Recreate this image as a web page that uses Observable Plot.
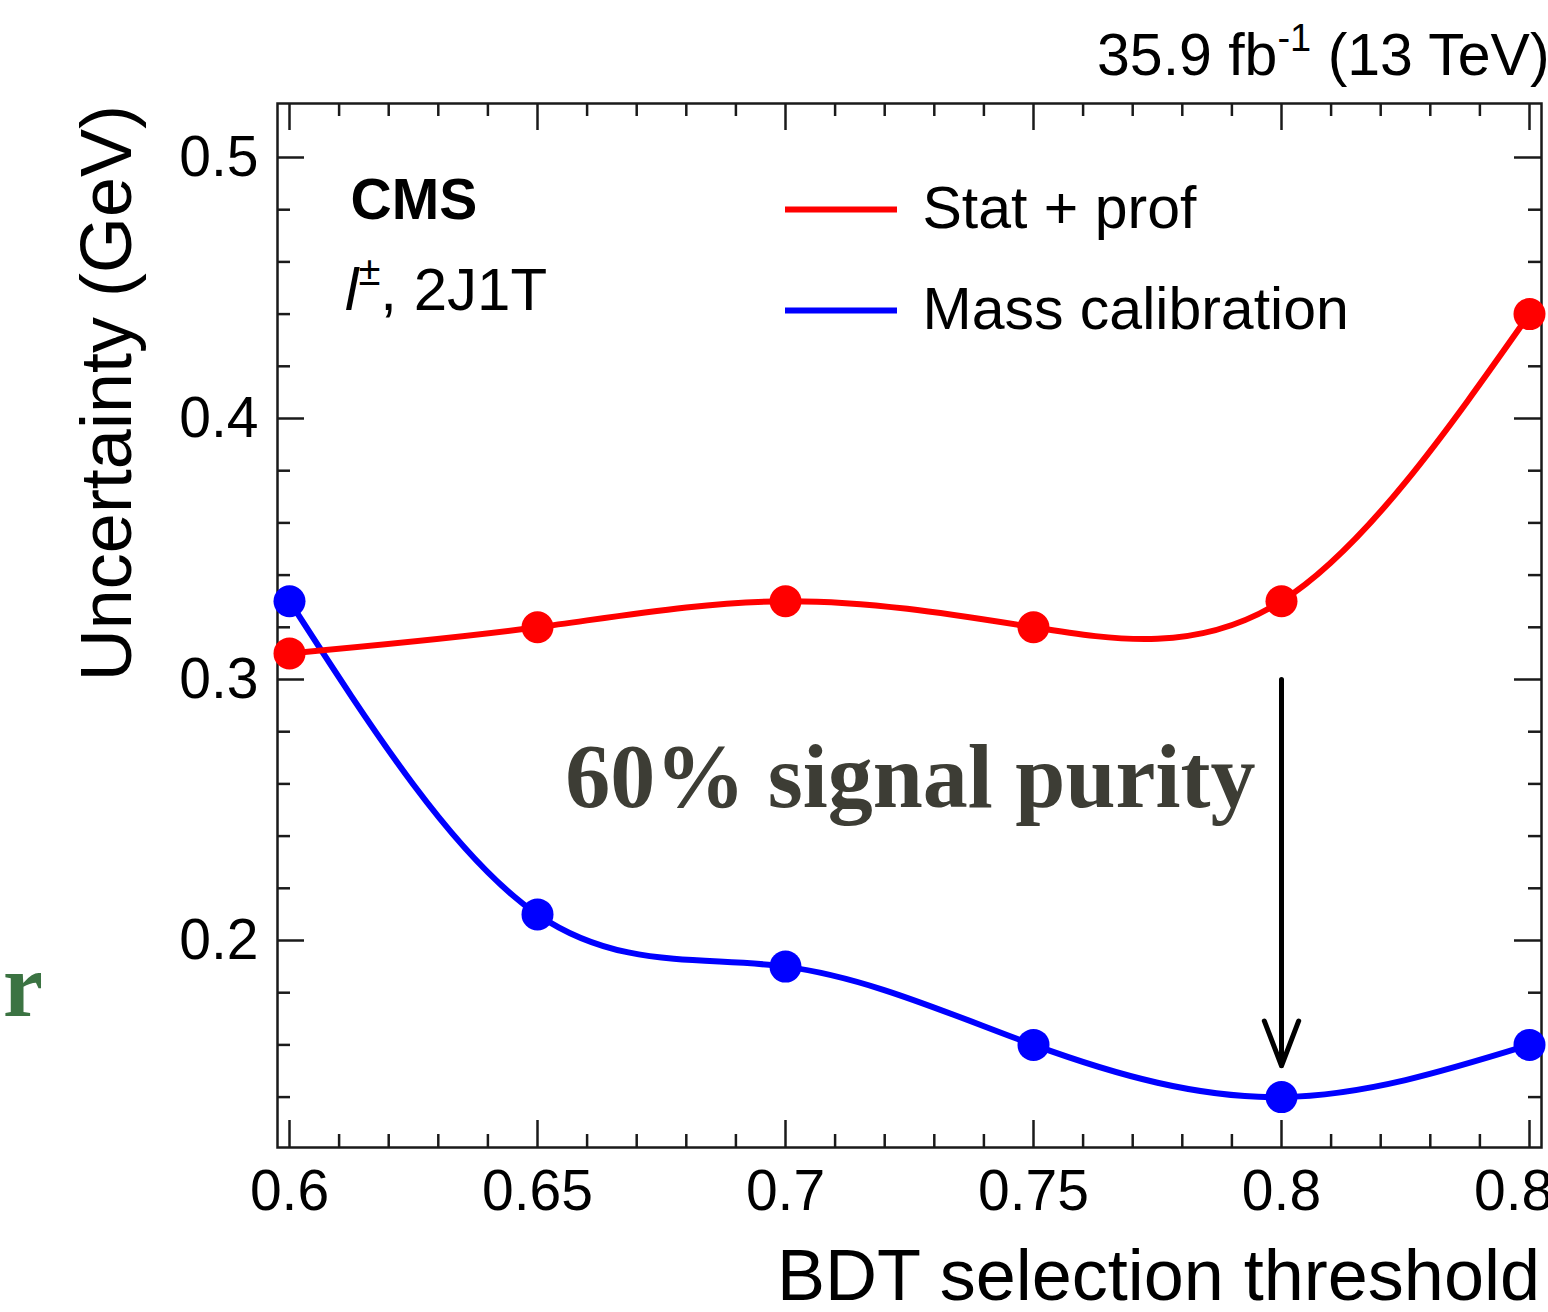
<!DOCTYPE html>
<html><head><meta charset="utf-8">
<script src="https://cdn.jsdelivr.net/npm/d3@7"></script>
<script src="https://cdn.jsdelivr.net/npm/@observablehq/plot@0.6"></script>
<style>body{margin:0;background:#fff;} svg{display:block}</style>
</head><body><div id="chart"></div>
<script>
// ---- data ----
const thresholds = [0.6, 0.65, 0.7, 0.75, 0.8, 0.85];
const statProf   = [0.31, 0.32, 0.33, 0.32, 0.33, 0.44];
const massCalib  = [0.33, 0.21, 0.19, 0.16, 0.14, 0.16];
const seriesNames  = ["Stat + prof", "Mass calibration"];
const seriesColors = ["#ff0000", "#0000ff"];
const xTickValues = [0.6, 0.65, 0.7, 0.75, 0.8, 0.85];
const xTickLabels = ["0.6", "0.65", "0.7", "0.75", "0.8", "0.85"];
const xMinorTicks = [0.61,0.62,0.63,0.64,0.66,0.67,0.68,0.69,0.71,0.72,0.73,0.74,0.76,0.77,0.78,0.79,0.81,0.82,0.83,0.84];
const yTickValues = [0.2, 0.3, 0.4, 0.5];
const yTickLabels = ["0.2", "0.3", "0.4", "0.5"];
const yMinorTicks = [0.14,0.16,0.18,0.22,0.24,0.26,0.28,0.32,0.34,0.36,0.38,0.42,0.44,0.46,0.48];
const purityThreshold = 0.8;
const purityLabel = "60% signal purity";
const arrowFrom = 0.3, arrowTo = 0.152;

// ---- layout ----
const W = 1548, H = 1312;
const mL = 277, mR = 7, mT = 103, mB = 165;
const fw = W - mL - mR, fh = H - mT - mB;
const xDomain = [0.59758, 0.85242];
const yDomain = [0.12069, 0.52069];
const sans = "'Liberation Sans', Arial, Helvetica, sans-serif";
const serif = "'Liberation Serif', 'Times New Roman', serif";
const ink = "#1a1a1a";

const rows = [];
thresholds.forEach((t, i) => {
  rows.push({x: t, y: massCalib[i], s: seriesNames[1]});
});
thresholds.forEach((t, i) => {
  rows.push({x: t, y: statProf[i], s: seriesNames[0]});
});
const colorOf = s => seriesColors[seriesNames.indexOf(s)];

// legend placement in data units
const legX1 = 0.7, legX2 = 0.72258, legTX = 0.72762;
const legend = seriesNames.map((n, i) => ({name: n, color: seriesColors[i], y: i === 0 ? 0.4801 : 0.4414}));

const fmtX = d => xTickLabels[xTickValues.indexOf(d)];
const fmtY = d => yTickLabels[yTickValues.indexOf(d)];

const plot = Plot.plot({
  width: W, height: H,
  marginLeft: mL, marginRight: mR, marginTop: mT, marginBottom: mB,
  x: {domain: xDomain, axis: null},
  y: {domain: yDomain, axis: null},
  style: {fontFamily: sans, fontSize: "56px", color: "black", background: "white"},
  marks: [
    Plot.axisX(xTickValues, {tickSize: 0, tickPadding: 22, tickFormat: fmtX, fontSize: 57, label: null}),
    Plot.axisY(yTickValues, {tickSize: 0, tickPadding: 19, tickFormat: fmtY, fontSize: 57, label: null}),
    // inward ticks on all four sides
    Plot.tickX(xTickValues, {x: d => d, insetTop: fh - 27, stroke: ink, strokeWidth: 2.5}),
    Plot.tickX(xTickValues, {x: d => d, insetBottom: fh - 27, stroke: ink, strokeWidth: 2.5}),
    Plot.tickX(xMinorTicks, {x: d => d, insetTop: fh - 13, stroke: ink, strokeWidth: 2.5}),
    Plot.tickX(xMinorTicks, {x: d => d, insetBottom: fh - 13, stroke: ink, strokeWidth: 2.5}),
    Plot.tickY(yTickValues, {y: d => d, insetRight: fw - 27, stroke: ink, strokeWidth: 2.5}),
    Plot.tickY(yTickValues, {y: d => d, insetLeft: fw - 27, stroke: ink, strokeWidth: 2.5}),
    Plot.tickY(yMinorTicks, {y: d => d, insetRight: fw - 13, stroke: ink, strokeWidth: 2.5}),
    Plot.tickY(yMinorTicks, {y: d => d, insetLeft: fw - 13, stroke: ink, strokeWidth: 2.5}),
    Plot.frame({stroke: ink, strokeWidth: 2.5}),
    // curves
    Plot.line(rows.filter(r => r.s === seriesNames[1]), {x: "x", y: "y", stroke: seriesColors[1], strokeWidth: 6, curve: "natural"}),
    Plot.line(rows.filter(r => r.s === seriesNames[0]), {x: "x", y: "y", stroke: seriesColors[0], strokeWidth: 6, curve: "natural"}),
    Plot.dot(rows, {x: "x", y: "y", fill: d => colorOf(d.s), r: 16, stroke: "none"}),
    // legend
    Plot.ruleY(legend, {x1: legX1, x2: legX2, y: "y", stroke: "color", strokeWidth: 6}),
    Plot.text(legend, {x: legTX, y: "y", text: "name", textAnchor: "start", lineAnchor: "middle", fontSize: 59, fill: "black"}),
    // CMS label
    Plot.text(["CMS"], {x: 0.6123, y: 0.4766, text: d => d, textAnchor: "start", lineAnchor: "bottom", fontSize: 57, fontWeight: "bold", fill: "black"}),
    // purity annotation
    Plot.arrow([purityThreshold], {x1: d => d, x2: d => d, y1: arrowFrom, y2: arrowTo, stroke: "black", strokeWidth: 5, headLength: 14.4, headAngle: 42}),
    Plot.text([purityLabel], {x: 0.6556, y: 0.2513, text: d => d, textAnchor: "start", lineAnchor: "bottom", fontSize: 90, fontWeight: "bold", fontFamily: serif, fill: "#3d3d35"})
  ]
});

document.getElementById("chart").appendChild(plot);

// extra texts with superscripts / rotation
const svg = d3.select(plot);
const sx = plot.scale("x"), sy = plot.scale("y");

// channel label  l±, 2J1T
const ch = svg.append("text")
  .attr("x", sx.apply(0.6113)).attr("y", sy.apply(0.4414))
  .attr("text-anchor", "start")
  .attr("font-family", sans).attr("font-size", 60).attr("fill", "black");
ch.append("tspan").attr("font-style", "italic").text("l");
ch.append("tspan").attr("font-size", 40).attr("dy", -25).text("±");
ch.append("tspan").attr("dy", 25).text(", 2J1T");

// luminosity label
const lum = svg.append("text")
  .attr("x", 1097).attr("y", 75)
  .attr("text-anchor", "start")
  .attr("font-family", sans).attr("font-size", 59).attr("fill", "black");
lum.append("tspan").text("35.9 fb");
lum.append("tspan").attr("font-size", 38).attr("dy", -24).text("-1");
lum.append("tspan").attr("dy", 24).text(" (13 TeV)");

// axis titles
svg.append("text")
  .attr("transform", "translate(131,105) rotate(-90)")
  .attr("text-anchor", "end")
  .attr("font-family", sans).attr("font-size", 72).attr("fill", "black")
  .text("Uncertainty (GeV)");
svg.append("text")
  .attr("x", 1540).attr("y", 1300)
  .attr("text-anchor", "end")
  .attr("font-family", sans).attr("font-size", 72).attr("fill", "black")
  .text("BDT selection threshold");

// stray slide letter at left edge
svg.append("text")
  .attr("x", 3).attr("y", 1016)
  .attr("text-anchor", "start")
  .attr("font-family", serif).attr("font-weight", "bold").attr("font-size", 90).attr("fill", "#3b7342")
  .text("r");
</script>
</body></html>
